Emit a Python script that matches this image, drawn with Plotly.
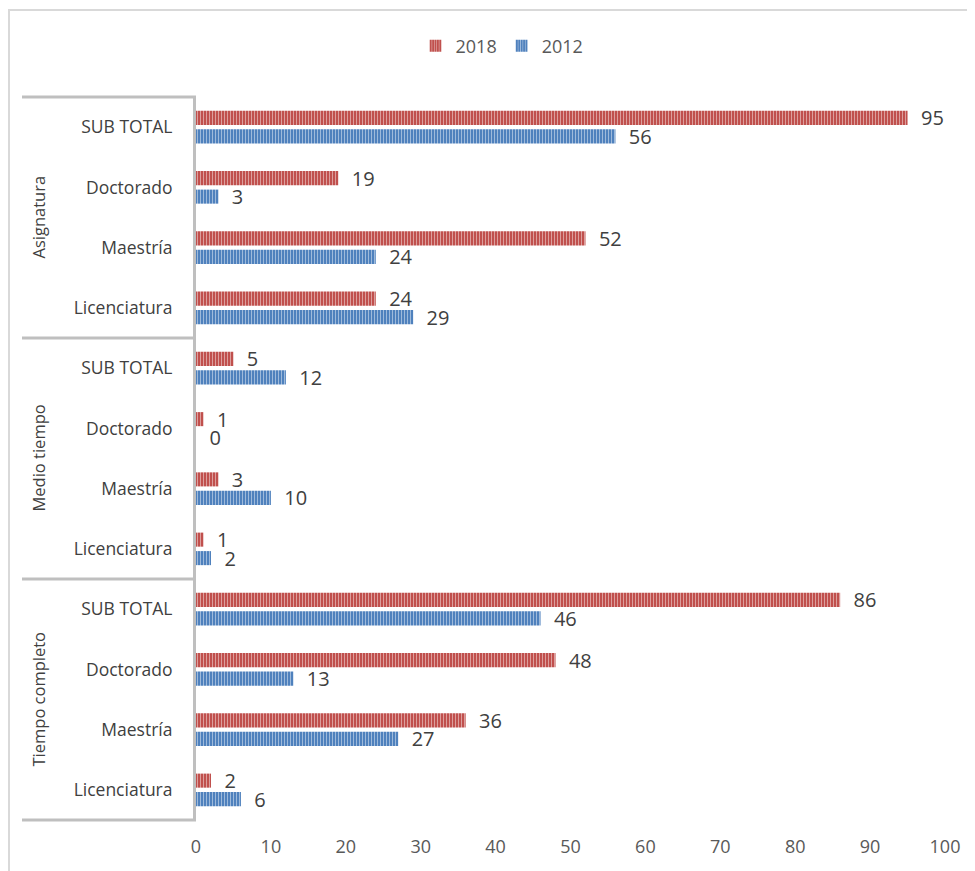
import plotly.graph_objects as go

# ---- data (bottom to top order within plot) ----
groups = ["Tiempo completo", "Medio tiempo", "Asignatura"]
levels = ["Licenciatura", "Maestría", "Doctorado", "SUB TOTAL"]
values_2018 = [2, 36, 48, 86,   1, 3, 1, 5,    24, 52, 19, 95]
values_2012 = [6, 27, 13, 46,   2, 10, 0, 12,  29, 24, 3, 56]
x_ticks = [0, 10, 20, 30, 40, 50, 60, 70, 80, 90, 100]

keys = [f"{g}|{l}" for g in groups for l in levels]
tick_text = [l for g in groups for l in levels]

OFF = 8  # page body margin
W, H = 975 - OFF, 871 - OFF
L, R, T, B = 196 - OFF, 30, 97 - OFF, 51
pw, ph = W - L - R, H - T - B

def px_x(px):
    return (px - OFF - L) / pw

def px_y(py):
    return (H - B - (py - OFF)) / ph

FONT = "'Open Sans', 'Noto Sans', sans-serif"
NB = "\u00a0\u00a0"
lab_font = dict(family=FONT, size=20, color="#404040")

fig = go.Figure()
fig.add_trace(go.Bar(
    name="2012", y=keys, x=values_2012, orientation="h",
    marker=dict(color="#4F81BD", line=dict(width=0),
                pattern=dict(shape="|", fillmode="overlay", fgcolor="white",
                             fgopacity=0.45, size=3, solidity=0.35)),
    text=[NB + str(v) for v in values_2012], textposition="outside",
    textfont=lab_font, cliponaxis=False, constraintext="none",
))
fig.add_trace(go.Bar(
    name="2018", y=keys, x=values_2018, orientation="h",
    marker=dict(color="#C0504D", line=dict(width=0),
                pattern=dict(shape="|", fillmode="overlay", fgcolor="white",
                             fgopacity=0.45, size=3, solidity=0.35)),
    text=[NB + str(v) for v in values_2018], textposition="outside",
    textfont=lab_font, cliponaxis=False, constraintext="none",
))

shapes = []
# outer chart border
shapes.append(dict(type="rect", xref="paper", yref="paper",
                   x0=px_x(9), x1=px_x(1100), y0=px_y(10), y1=px_y(1000),
                   line=dict(color="#D9D9D9", width=2), layer="below"))
# group separators
for i in range(len(groups) + 1):
    yy = i / len(groups)
    shapes.append(dict(type="line", xref="paper", yref="paper",
                       x0=px_x(22), x1=0, y0=yy, y1=yy,
                       line=dict(color="#BFBFBF", width=3)))

annotations = []
for i, g in enumerate(groups):
    annotations.append(dict(text=g, xref="paper", yref="paper",
                            x=px_x(38), y=(i + 0.5) / len(groups),
                            textangle=-90, showarrow=False,
                            xanchor="center", yanchor="middle",
                            font=dict(family=FONT, size=16.5, color="#404040")))

fig.update_layout(
    width=W, height=H,
    margin=dict(l=L, r=R, t=T, b=B),
    paper_bgcolor="white", plot_bgcolor="white",
    barmode="group", bargap=0.386, bargroupgap=0.24,
    font=dict(family=FONT, size=16, color="#595959"),
    showlegend=True,
    legend=dict(orientation="h", x=px_x(502), y=px_y(46),
                xanchor="center", yanchor="middle", traceorder="reversed",
                itemwidth=30,
                font=dict(family=FONT, size=18, color="#595959")),
    xaxis=dict(range=[0, 100], tickvals=x_ticks, showgrid=False,
               zeroline=False, showline=False, ticks="",
               ticklabelstandoff=14,
               tickfont=dict(family=FONT, size=18, color="#595959")),
    yaxis=dict(type="category", categoryorder="array", categoryarray=keys,
               tickvals=keys, ticktext=tick_text, showgrid=False,
               showline=True, linecolor="#BFBFBF", linewidth=3,
               ticks="", ticklabelstandoff=17,
               tickfont=dict(family=FONT, size=17.5, color="#404040")),
    shapes=shapes, annotations=annotations,
)

fig.write_html("out.html")
